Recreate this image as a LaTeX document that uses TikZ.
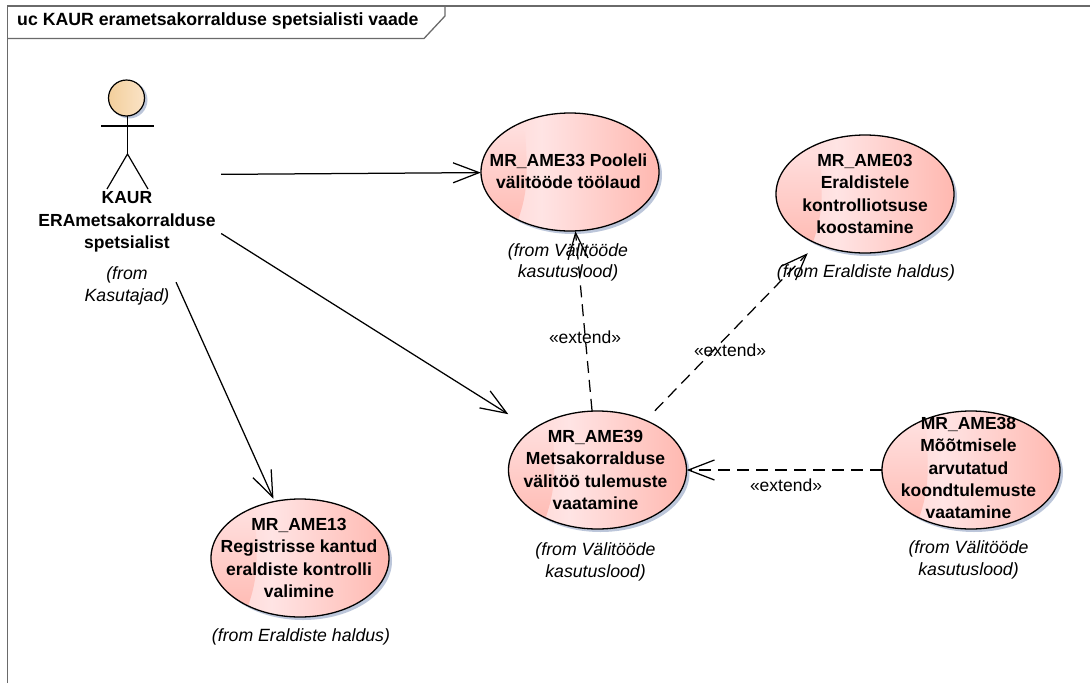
\documentclass[tikz,border=0pt]{standalone}
\usepackage{fontspec}
\setmainfont{Liberation Sans}
\usetikzlibrary{arrows.meta}
\definecolor{ucdark}{HTML}{FFB8B0}
\definecolor{ucleft}{HTML}{FFD2CF}
\definecolor{uclight}{HTML}{FFE4E4}
\definecolor{ucshadow}{HTML}{BCC6DA}
\definecolor{framegray}{HTML}{6A6A6A}
\definecolor{headleft}{HTML}{F3CF9C}
\definecolor{headright}{HTML}{FAE3C6}
\pgfdeclarehorizontalshading{ucshade}{100bp}{color(0bp)=(ucleft); color(25bp)=(ucleft); color(42bp)=(uclight); color(75bp)=(ucdark); color(100bp)=(ucdark)}
\tikzset{
	ucrim/.style={draw=black, line width=1.3pt},
	ucbound/.style={minimum width=178pt, minimum height=118pt, inner sep=0pt},
	uctext/.style={inner sep=0pt, align=center, font=\fontsize{17.5}{22.3}\selectfont\bfseries},
	fromtext/.style={inner sep=0pt, align=center, font=\fontsize{17.7}{21.5}\selectfont\itshape},
	kindtext/.style={inner sep=0pt, font=\fontsize{17.5}{22}\selectfont},
	actorline/.style={draw=black, line width=1.2pt},
	solidarrow/.style={draw=black, line width=1.25pt, -{Straight Barb[length=26pt, width=20pt, line width=1.25pt]}},
	extendarrow/.style={solidarrow, dash pattern=on 12pt off 7pt}
}
\newcommand{\ucbody}[3]{
	\begin{scope}[shift={(#2,#3)}]
		\fill[ucshadow] (3,3) ellipse (89 and 59);
		\begin{scope}
			\clip (0,0) ellipse (89 and 59);
			\shade[shading=ucshade] (-89,-59) rectangle (89,59);
			\shade[top color=uclight, bottom color=ucdark] (-89,-59) -- (-45,-40) .. controls (-42,0) and (-42,20) .. (-52,48) -- (-52,59) -- (-89,59) -- cycle;
		\end{scope}
		\draw[ucrim] (0,0) ellipse (89 and 59);
	\end{scope}
	\node[ucbound] (#1) at (#2,#3) {};
}
\begin{document}
\begin{tikzpicture}[x=1pt, y=-1pt]
	\useasboundingbox (0,0) rectangle (1090,683);

	% Ramme
	\draw[framegray, line width=1.5pt] (7.5,683) -- (7.5,6) -- (1090,6);
	\draw[framegray, line width=1.3pt] (445,6) -- (445,16) -- (424,38.5) -- (7.5,38.5);
	\node[anchor=west, inner sep=0pt, font=\fontsize{17.7}{22}\selectfont\bfseries] (title) at (17,21) {uc KAUR erametsakorralduse spetsialisti vaade};

	% Tegutseja
	\node[minimum width=186pt, minimum height=214pt, inner sep=0pt] (kaur) at (128,175) {};
	\fill[ucshadow] (129,100) circle (18.5);
	\draw[actorline, left color=headleft, right color=headright] (126.5,98) circle (18);
	\draw[actorline] (101,126) -- (153.5,126);
	\draw[actorline] (127.5,116) -- (127.5,154);
	\draw[actorline] (107,189) -- (127.5,154) -- (148,189);
	\node[uctext] (kaurname) at (127,222) {KAUR\\ERAmetsakorralduse\\spetsialist};
	\node[fromtext] (kaurfrom) at (127,286) {(from\\Kasutajad)};

	% MR_AME33
	\ucbody{u33}{570}{172}
	\node[uctext] (text33) at (568.5,171.5) {MR\_AME33 Pooleli\\välitööde töölaud};
	\node[fromtext] (from33) at (568,262.5) {(from Välitööde\\kasutuslood)};

	% MR_AME03
	\ucbody{u03}{865}{194}
	\node[uctext] (text03) at (865,194) {MR\_AME03\\Eraldistele\\kontrolliotsuse\\koostamine};
	\node[fromtext] (from03) at (866,273) {(from Eraldiste haldus)};

	% MR_AME39
	\ucbody{u39}{597.5}{470}
	\node[uctext] (text39) at (595.5,470) {MR\_AME39\\Metsakorralduse\\välitöö tulemuste\\vaatamine};
	\node[fromtext] (from39) at (595.5,562) {(from Välitööde\\kasutuslood)};

	% MR_AME38
	\ucbody{u38}{971}{470}
	\node[uctext] (text38) at (968.5,468) {MR\_AME38\\Mõõtmisele\\arvutatud\\koondtulemuste\\vaatamine};
	\node[fromtext] (from38) at (968.5,560) {(from Välitööde\\kasutuslood)};

	% MR_AME13
	\ucbody{u13}{300}{558}
	\node[uctext] (text13) at (299,558) {MR\_AME13\\Registrisse kantud\\eraldiste kontrolli\\valimine};
	\node[fromtext] (from13) at (301,637) {(from Eraldiste haldus)};

	% Seosed
	\draw[solidarrow] (kaur) -- (u33);
	\draw[solidarrow] (kaur) -- (u39);
	\draw[solidarrow] (kaur) -- (u13);
	\draw[extendarrow] (u39) -- (u33);
	\draw[extendarrow] (u39) -- (u03);
	\draw[extendarrow] (u38) -- (u39);
	\node[kindtext] (ext33) at (585,337) {«extend»};
	\node[kindtext] (ext03) at (730,350) {«extend»};
	\node[kindtext] (ext38) at (786,485) {«extend»};
\end{tikzpicture}
\end{document}
